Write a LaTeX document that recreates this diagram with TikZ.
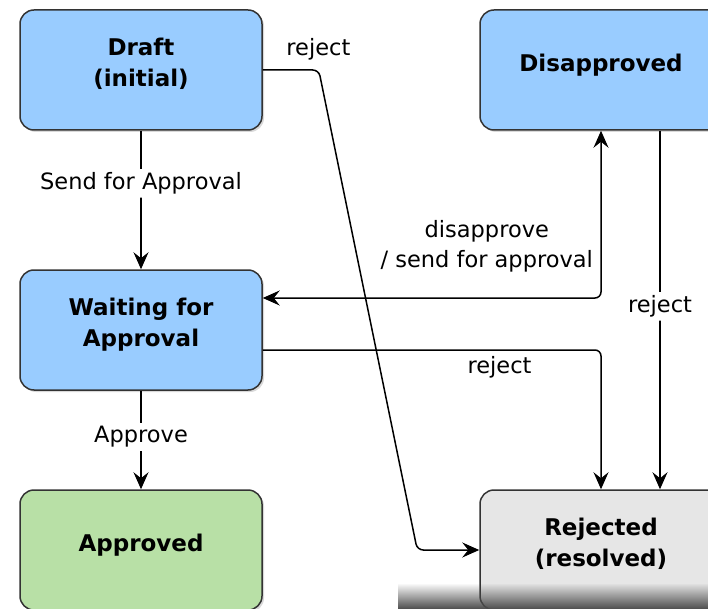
\documentclass[tikz,border=0pt]{standalone}
\usepackage{fontspec}
\setmainfont{DejaVu Sans}
\usetikzlibrary{arrows.meta}
\usetikzlibrary{shadows}
\usetikzlibrary{fadings}

\definecolor{stateblue}{HTML}{99CCFF}
\definecolor{stategreen}{HTML}{B8E0A6}
\definecolor{stategray}{HTML}{E6E6E6}

\begin{document}
\begin{tikzpicture}[x=1pt,y=-1pt]
  \useasboundingbox (0,0) rectangle (708,609);

      \begin{scope}[every node/.style={rectangle,rounded corners=14pt,draw=black!80,line width=1.5pt,
          minimum width=242pt,minimum height=120pt,align=center,text depth=15pt,
          font=\fontsize{23}{31}\selectfont\bfseries,
          drop shadow={shadow xshift=2pt,shadow yshift=-2pt,opacity=0.3}}]
        \node[fill=stateblue] (draft) at (141,70) {Draft\\(initial)};
        \node[fill=stateblue] (disapproved) at (601,70) {Disapproved};
        \node[fill=stateblue] (waiting) at (141,330) {Waiting for\\Approval};
        \node[fill=stategreen] (approved) at (141,550) {Approved};
        \node[fill=stategray] (rejected) at (601,550) {Rejected\\(resolved)};
      \end{scope}

      \begin{scope}[>={Stealth[black,length=17pt,width=15pt,inset=6pt]},
          line width=1.5pt, rounded corners=6pt,
          every node/.style={font=\fontsize{22.5}{30}\selectfont}]
        \draw [->] (draft) -- node[fill=white,pos=0.38] {Send for Approval} (waiting);
        \draw [->] (waiting) -- node[fill=white,pos=0.47] {Approve} (approved);
        \draw [->] (draft.east) -- node[above right,pos=0.35,yshift=6pt] {reject} ++(56,0)
          -- ([xshift=-62pt]rejected.west) -- (rejected.west);
        \draw [<->] ([yshift=32pt]waiting.east) -| node[above left,align=center,xshift=-4pt,yshift=22pt]
          {disapprove\\/ send for approval} (disapproved.south);
        \draw [->] ([yshift=-20pt]waiting.east) -| node[below,pos=0.35,yshift=-2pt] {reject} (rejected.north);
        \draw [->] ([xshift=59pt]disapproved.south) -- node[fill=white,pos=0.49] {reject}
          ([xshift=59pt]rejected.north);
      \end{scope}

  \fill[black!70, path fading=north] (398,583) rectangle (708,609);
\end{tikzpicture}
\end{document}
